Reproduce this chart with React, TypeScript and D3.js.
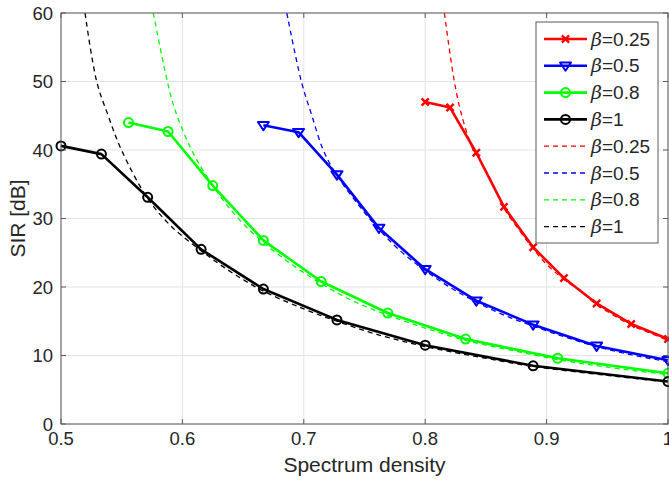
import React from "react";
import * as d3 from "d3";

const W = 669;
const H = 481;
const M = { left: 61, right: 1, top: 13, bottom: 57 };

const xTicks = [0.5, 0.6, 0.7, 0.8, 0.9, 1];
const yTicks = [0, 10, 20, 30, 40, 50, 60];
const xTickLabels = ["0.5", "0.6", "0.7", "0.8", "0.9", "1"];
const yTickLabels = ["0", "10", "20", "30", "40", "50", "60"];

// Simulated (solid, with markers)
const sim025X = [0.8, 0.8205, 0.8421, 0.8649, 0.8889, 0.9143, 0.9412, 0.9697, 1.0];
const sim025Y = [47.0, 46.2, 39.6, 31.7, 25.8, 21.3, 17.6, 14.6, 12.4];
const sim05X = [0.6667, 0.6957, 0.7273, 0.7619, 0.8, 0.8421, 0.8889, 0.9412, 1.0];
const sim05Y = [43.6, 42.6, 36.4, 28.6, 22.6, 18.0, 14.5, 11.4, 9.3];
const sim08X = [0.5556, 0.5882, 0.625, 0.6667, 0.7143, 0.7692, 0.8333, 0.9091, 1.0];
const sim08Y = [44.0, 42.7, 34.8, 26.8, 20.8, 16.2, 12.4, 9.6, 7.4];
const sim1X = [0.5, 0.5333, 0.5714, 0.6154, 0.6667, 0.7273, 0.8, 0.8889, 1.0];
const sim1Y = [40.6, 39.4, 33.1, 25.5, 19.7, 15.2, 11.5, 8.5, 6.2];

// Theory (dashed)
const th025X = [0.8158, 0.824, 0.83, 0.839, 0.8421, 0.855, 0.8649, 0.877, 0.8889, 0.9, 0.9143, 0.93, 0.9412, 0.955, 0.9697, 0.985, 1.0];
const th025Y = [60, 50, 45.1, 40.2, 39.4, 35.3, 31.5, 28.4, 25.6, 23.3, 21.1, 19.1, 17.4, 15.9, 14.4, 13.3, 12.2];
const th05X = [0.686, 0.698, 0.7065, 0.716, 0.7265, 0.745, 0.7619, 0.78, 0.8, 0.82, 0.8421, 0.865, 0.8889, 0.915, 0.9412, 0.97, 1.0];
const th05Y = [60, 50, 45.1, 40.0, 36.5, 32.0, 28.4, 25.2, 22.4, 20.0, 17.8, 15.9, 14.3, 12.7, 11.3, 10.1, 9.1];
const th08X = [0.576, 0.5876, 0.594, 0.6076, 0.6235, 0.645, 0.6667, 0.69, 0.7143, 0.74, 0.7692, 0.8, 0.8333, 0.87, 0.9091, 0.95, 1.0];
const th08Y = [60, 50, 45.8, 40.0, 35.2, 30.2, 26.5, 23.3, 20.5, 18.0, 15.9, 14.0, 12.2, 10.8, 9.4, 8.3, 7.2];
const th1X = [0.5198, 0.5294, 0.5387, 0.5498, 0.5708, 0.59, 0.6154, 0.64, 0.6667, 0.7, 0.7273, 0.76, 0.8, 0.85, 0.8889, 0.95, 1.0];
const th1Y = [60, 50, 45.1, 40.0, 33.1, 29.0, 25.3, 22.2, 19.4, 16.8, 15.0, 13.1, 11.3, 9.6, 8.4, 7.1, 6.1];

const legendLabels = ["0.25", "0.5", "0.8", "1", "0.25", "0.5", "0.8", "1"];
const colors = ["#ff0000", "#0000ff", "#00ff00", "#000000"];
const markers = ["x", "v", "o", "o"];

const FONT = "'Liberation Sans', Arial, Helvetica, sans-serif";

export default function App() {
  const x = d3.scaleLinear().domain([0.5, 1]).range([M.left, W - M.right]);
  const y = d3.scaleLinear().domain([0, 60]).range([H - M.bottom, M.top]);

  const sims = [
    [sim025X, sim025Y],
    [sim05X, sim05Y],
    [sim08X, sim08Y],
    [sim1X, sim1Y],
  ];
  const ths = [
    [th025X, th025Y],
    [th05X, th05Y],
    [th08X, th08Y],
    [th1X, th1Y],
  ];

  const lineLin = d3
    .line<[number, number]>()
    .x((d) => x(d[0]))
    .y((d) => y(d[1]));
  const lineSmooth = d3
    .line<[number, number]>()
    .x((d) => x(d[0]))
    .y((d) => y(d[1]))
    .curve(d3.curveCatmullRom.alpha(0.5));

  const zip = (xs: number[], ys: number[]) =>
    xs.map((v, i) => [v, ys[i]] as [number, number]);

  const marker = (type: string, cx: number, cy: number, color: string, key: any) => {
    if (type === "x") {
      const s = 3.6;
      return (
        <path
          key={key}
          d={`M${cx - s},${cy - s}L${cx + s},${cy + s}M${cx - s},${cy + s}L${cx + s},${cy - s}`}
          stroke={color}
          strokeWidth={2.4}
          fill="none"
        />
      );
    }
    if (type === "v") {
      const s = 5.5;
      return (
        <path
          key={key}
          d={`M${cx - s},${cy - s * 0.6}L${cx + s},${cy - s * 0.6}L${cx},${cy + s * 0.9}Z`}
          stroke={color}
          strokeWidth={2}
          fill="none"
          strokeLinejoin="round"
        />
      );
    }
    return (
      <circle key={key} cx={cx} cy={cy} r={4.5} stroke={color} strokeWidth={2} fill="none" />
    );
  };

  const x0 = M.left;
  const x1 = W - M.right;
  const y0 = H - M.bottom;
  const y1 = M.top;
  const axisColor = "#5a5a5a";
  const textColor = "#262626";

  const legX = 536;
  const legY = 22;
  const legW = 122;
  const legH = 221;
  const rowH = 26.8;

  return (
    <svg width={W} height={H} style={{ position: "absolute", left: 0, top: 0, background: "#fff" }} fontFamily={FONT}>
      <defs>
        <clipPath id="plotclip">
          <rect x={x0} y={y1} width={x1 - x0} height={y0 - y1} />
        </clipPath>
      </defs>
      <rect x={0} y={0} width={W} height={H} fill="#fff" />
      {/* grid */}
      {xTicks.map((t, i) => (
        <line key={"gx" + i} x1={x(t)} x2={x(t)} y1={y0} y2={y1} stroke="#e3e3e3" strokeWidth={1} />
      ))}
      {yTicks.map((t, i) => (
        <line key={"gy" + i} x1={x0} x2={x1} y1={y(t)} y2={y(t)} stroke="#e3e3e3" strokeWidth={1} />
      ))}
      {/* data */}
      <g clipPath="url(#plotclip)">
        {ths.map(([xs, ys], i) => (
          <path
            key={"th" + i}
            d={lineSmooth(zip(xs, ys)) || ""}
            stroke={colors[i]}
            strokeWidth={1.3}
            strokeDasharray="5,4"
            fill="none"
          />
        ))}
      </g>
      {sims.map(([xs, ys], i) => (
        <g key={"sim" + i}>
          <path d={lineLin(zip(xs, ys)) || ""} stroke={colors[i]} strokeWidth={2.6} fill="none" strokeLinejoin="round" />
          {xs.map((v, j) => marker(markers[i], x(v), y(ys[j]), colors[i], j))}
        </g>
      ))}
      {/* axes box */}
      <rect x={x0} y={y1} width={x1 - x0} height={y0 - y1} fill="none" stroke={axisColor} strokeWidth={1} />
      {xTicks.map((t, i) => (
        <g key={"tx" + i}>
          <line x1={x(t)} x2={x(t)} y1={y0} y2={y0 - 5} stroke={axisColor} />
          <line x1={x(t)} x2={x(t)} y1={y1} y2={y1 + 5} stroke={axisColor} />
          <text x={x(t)} y={y0 + 21} textAnchor="middle" fontSize={18.5} fill={textColor}>
            {xTickLabels[i]}
          </text>
        </g>
      ))}
      {yTicks.map((t, i) => (
        <g key={"ty" + i}>
          <line x1={x0} x2={x0 + 5} y1={y(t)} y2={y(t)} stroke={axisColor} />
          <line x1={x1} x2={x1 - 5} y1={y(t)} y2={y(t)} stroke={axisColor} />
          <text x={x0 - 8} y={y(t) + 6.5} textAnchor="end" fontSize={18.5} fill={textColor}>
            {yTickLabels[i]}
          </text>
        </g>
      ))}
      <text x={(x0 + x1) / 2} y={H - 9} textAnchor="middle" fontSize={21} fill={textColor}>
        Spectrum density
      </text>
      <text
        transform={`translate(${25},${(y0 + y1) / 2}) rotate(-90)`}
        textAnchor="middle"
        fontSize={21}
        fill={textColor}
      >
        SIR [dB]
      </text>
      {/* legend */}
      <rect x={legX} y={legY} width={legW} height={legH} fill="#fff" stroke={axisColor} strokeWidth={1} />
      {legendLabels.map((lab, i) => {
        const cy = legY + 17 + i * rowH;
        const ci = i % 4;
        const solid = i < 4;
        return (
          <g key={"leg" + i}>
            <line
              x1={544}
              x2={587}
              y1={cy}
              y2={cy}
              stroke={colors[ci]}
              strokeWidth={solid ? 2.6 : 1.3}
              strokeDasharray={solid ? undefined : "5,4"}
            />
            {solid ? marker(markers[ci], 565.5, cy, colors[ci], "m") : null}
            <text x={591} y={cy + 6.5} fontSize={19} fill={textColor}>
              <tspan fontStyle="italic" fontFamily="'DejaVu Serif', serif">β</tspan>
              <tspan>={lab}</tspan>
            </text>
          </g>
        );
      })}
    </svg>
  );
}
